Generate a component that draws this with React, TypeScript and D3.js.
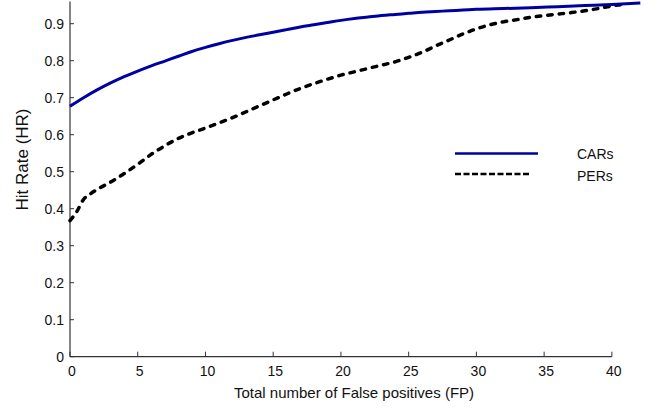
import React, { useEffect, useRef } from 'react';
import * as d3 from 'd3';

// false positives (x) and hit rates
const carFP = [0, 1, 2, 3, 4, 5, 6, 7, 8, 9, 10, 11, 12, 13, 14, 15, 16, 17, 18, 19, 20, 21, 22, 23, 24, 25, 26, 27, 28, 29, 30, 32, 34, 36, 38, 40, 42.1];
const carHR = [0.677, 0.700, 0.721, 0.740, 0.757, 0.772, 0.786, 0.799, 0.812, 0.825, 0.836, 0.846, 0.855, 0.863, 0.870, 0.877, 0.884, 0.891, 0.897, 0.903, 0.909, 0.914, 0.918, 0.922, 0.925, 0.928, 0.931, 0.933, 0.935, 0.937, 0.939, 0.941, 0.943, 0.946, 0.949, 0.952, 0.956];

const perFP = [0, 0.5, 1, 1.5, 2, 3, 4, 5, 6, 7, 8, 9, 10, 11, 12, 13, 14, 15, 16, 17, 18, 19, 20, 21, 22, 23, 24, 25, 26, 27, 28, 29, 30, 31, 32, 33, 34, 35, 36, 37, 38, 39, 40, 41];
const perHR = [0.368, 0.392, 0.425, 0.440, 0.452, 0.472, 0.495, 0.520, 0.547, 0.570, 0.590, 0.605, 0.618, 0.632, 0.646, 0.662, 0.678, 0.694, 0.710, 0.725, 0.738, 0.750, 0.761, 0.770, 0.779, 0.788, 0.797, 0.809, 0.823, 0.840, 0.856, 0.872, 0.886, 0.897, 0.905, 0.911, 0.917, 0.922, 0.926, 0.930, 0.935, 0.941, 0.948, 0.953];

const xTicks = [0, 5, 10, 15, 20, 25, 30, 35, 40];
const yTicks = [0, 0.1, 0.2, 0.3, 0.4, 0.5, 0.6, 0.7, 0.8, 0.9];
const seriesNames = ['CARs', 'PERs'];

const App = () => {
  const ref = useRef<SVGSVGElement>(null);

  useEffect(() => {
    const width = 656;
    const height = 409;
    const left = 70;
    const bottom = 356.7;
    const font = 'Arial, "Liberation Sans", sans-serif';
    const axisColor = '#333';

    const svg = d3.select(ref.current);
    svg.selectAll('*').remove();
    svg.attr('width', width).attr('height', height);

    const x = d3.scaleLinear().domain([0, 42.15]).range([left, 641]);
    const y = d3.scaleLinear().domain([0, 0.96]).range([bottom, 1.5]);

    // axes lines
    svg.append('line')
      .attr('x1', left).attr('x2', left)
      .attr('y1', y(0.96)).attr('y2', bottom)
      .attr('stroke', axisColor).attr('stroke-width', 1.2);
    svg.append('line')
      .attr('x1', left).attr('x2', x(40))
      .attr('y1', bottom).attr('y2', bottom)
      .attr('stroke', axisColor).attr('stroke-width', 1.2);

    // y ticks (inward)
    const yt = svg.append('g');
    yt.selectAll('line').data(yTicks).enter().append('line')
      .attr('x1', left).attr('x2', left + 4)
      .attr('y1', (d) => y(d)).attr('y2', (d) => y(d))
      .attr('stroke', axisColor).attr('stroke-width', 1);
    yt.selectAll('text').data(yTicks).enter().append('text')
      .attr('x', 64).attr('y', (d) => y(d) + 5)
      .attr('text-anchor', 'end')
      .attr('font-family', font).attr('font-size', 14)
      .attr('fill', '#111')
      .text((d) => (d === 0 ? '0' : d3.format('.1f')(d)));

    // x ticks
    const xt = svg.append('g');
    xt.selectAll('line').data(xTicks).enter().append('line')
      .attr('x1', (d) => x(d)).attr('x2', (d) => x(d))
      .attr('y1', bottom).attr('y2', bottom - 5)
      .attr('stroke', axisColor).attr('stroke-width', 1);
    xt.selectAll('text').data(xTicks).enter().append('text')
      .attr('x', (d) => x(d) + 2).attr('y', 376)
      .attr('text-anchor', 'middle')
      .attr('font-family', font).attr('font-size', 14)
      .attr('fill', '#111')
      .text((d) => d);

    // axis titles
    svg.append('text')
      .attr('x', 354).attr('y', 398)
      .attr('text-anchor', 'middle')
      .attr('font-family', font).attr('font-size', 15)
      .attr('fill', '#111')
      .text('Total number of False positives (FP)');
    svg.append('text')
      .attr('transform', 'translate(28,159.5) rotate(-90)')
      .attr('text-anchor', 'middle')
      .attr('font-family', font).attr('font-size', 17)
      .attr('fill', '#111')
      .text('Hit Rate (HR)');

    const line = d3.line<number>()
      .x((d) => d)
      .curve(d3.curveMonotoneX);

    const carPts: [number, number][] = carFP.map((v, i) => [x(v), y(carHR[i])]);
    const perPts: [number, number][] = perFP.map((v, i) => [x(v), y(perHR[i])]);
    const path = d3.line().curve(d3.curveMonotoneX);

    svg.append('path')
      .attr('d', path(perPts))
      .attr('fill', 'none')
      .attr('stroke', '#000')
      .attr('stroke-width', 3.5)
      .attr('stroke-linecap', 'round')
      .attr('stroke-dasharray', '4.5,7');

    svg.append('path')
      .attr('d', path(carPts))
      .attr('fill', 'none')
      .attr('stroke', '#0000a0')
      .attr('stroke-width', 3)
      .attr('stroke-linejoin', 'round');

    // legend
    const lg = svg.append('g');
    lg.append('line')
      .attr('x1', 455).attr('x2', 538).attr('y1', 153.5).attr('y2', 153.5)
      .attr('stroke', '#0000a0').attr('stroke-width', 2.5);
    lg.append('line')
      .attr('x1', 455).attr('x2', 531).attr('y1', 174).attr('y2', 174)
      .attr('stroke', '#000').attr('stroke-width', 2.5)
      .attr('stroke-dasharray', '6,2.5');
    lg.selectAll('text').data(seriesNames).enter().append('text')
      .attr('x', 577).attr('y', (d, i) => 158.5 + i * 22)
      .attr('font-family', font).attr('font-size', 14)
      .attr('fill', '#111')
      .text((d) => d);

    void line;
  }, []);

  return (
    <div style={{ position: 'absolute', left: 0, top: 0 }}>
      <svg ref={ref} />
    </div>
  );
};

export default App;
